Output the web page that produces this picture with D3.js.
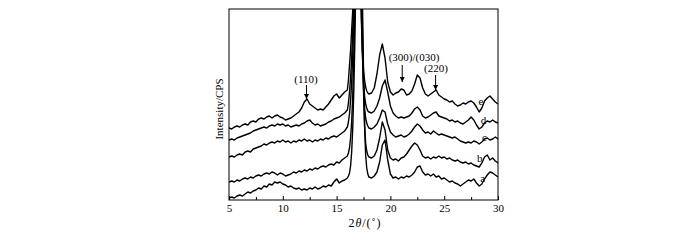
<!DOCTYPE html>
<html>
<head>
<meta charset="utf-8">
<script src="https://cdn.jsdelivr.net/npm/d3@7/dist/d3.min.js"></script>
<style>
    body { margin: 0; background: #fff; }
    text { font-family: "Liberation Serif", "Times New Roman", serif; fill: #000; }
</style>
</head>
<body>
<div id="center"></div>
<script>
// 2theta sampling: 0.25 deg steps, 0.1 deg around the main reflection (16-18 deg)
const thetaGrid = [].concat(
    d3.range(44).map(function (i) { return 5 + i * 0.25; }),
    d3.range(21).map(function (i) { return 16 + i * 0.1; }),
    d3.range(48).map(function (i) { return 18.25 + i * 0.25; })
);

// intensity (a.u., stacked offset as plotted)
const curveA = [2, 3, 2, 4, 5, 4, 6, 8, 7, 9,
    10, 12, 11, 14, 13, 16, 15, 18, 17, 18,
    16, 15, 13, 14, 12, 11, 12, 10, 11, 10,
    12, 11, 13, 11, 12, 14, 13, 15, 14, 18,
    21, 17, 19, 20,
    22, 24, 27, 34, 48, 72, 110, 160, 230, 500,
    500, 500, 400, 280, 200, 130, 75, 45, 32, 26, 23,
    22, 24, 28, 38, 55, 60, 40,
    26, 22, 23, 21, 23, 22, 24, 23, 25, 28,
    33, 34, 28, 25, 26, 24, 26, 23, 24, 21,
    22, 20, 18, 19, 17, 16, 14, 16, 18, 20,
    19, 21, 17, 14, 16, 21, 25, 28, 27, 25, 23];
const curveB = [18, 19, 18, 20, 19, 21, 22, 21, 23, 22,
    24, 25, 24, 26, 27, 26, 28, 27, 25, 27,
    26, 24, 25, 26, 28, 27, 29, 28, 30, 29,
    31, 30, 32, 31, 33, 34, 33, 35, 36, 35,
    38, 37, 40, 42,
    44, 47, 52, 62, 78, 105, 145, 190, 280, 500,
    500, 500, 350, 240, 170, 110, 75, 57, 49, 45, 43,
    42, 44, 50, 62, 78, 70, 50,
    42, 40, 41, 39, 42, 43, 46, 50, 54, 57,
    55, 50, 44, 42, 43, 41, 43, 42, 44, 42,
    43, 41, 42, 40, 39, 40, 38, 37, 38, 36,
    37, 35, 34, 33, 37, 43, 45, 40, 42, 39, 37];
const curveC = [43, 44, 43, 45, 46, 45, 48, 49, 48, 51,
    52, 53, 54, 56, 55, 57, 58, 57, 59, 58,
    60, 58, 59, 57, 59, 58, 60, 59, 61, 59,
    60, 58, 60, 59, 61, 60, 62, 61, 63, 64,
    63, 65, 67, 69,
    73, 78, 86, 100, 118, 145, 180, 260, 500, 500,
    500, 450, 300, 210, 150, 112, 92, 82, 77, 74, 72,
    71, 73, 76, 82, 90, 88, 76,
    68, 65, 63, 64, 65, 63, 64, 66, 69, 73,
    76, 74, 70, 67, 68, 66, 69, 67, 65, 66,
    65, 64, 63, 62, 63, 61, 59, 58, 57, 58,
    57, 59, 58, 56, 58, 61, 62, 60, 61, 63, 61];
const curveD = [60, 61, 60, 62, 63, 64, 65, 66, 67, 69,
    70, 71, 72, 73, 72, 74, 75, 74, 76, 75,
    76, 74, 75, 73, 74, 75, 74, 76, 77, 79,
    80, 77, 75, 76, 74, 75, 76, 78, 79, 81,
    82, 83, 85, 87,
    90, 97, 108, 122, 142, 170, 200, 300, 500, 500,
    500, 400, 260, 190, 145, 118, 104, 96, 92, 89, 88,
    87, 89, 94, 102, 114, 120, 108,
    94, 87, 84, 82, 83, 82, 83, 84, 87, 91,
    93, 90, 84, 82, 83, 85, 87, 88, 84, 83,
    82, 81, 79, 80, 78, 79, 77, 76, 78, 80,
    83, 80, 75, 71, 73, 77, 79, 78, 80, 78, 77];
const curveE = [72, 71, 73, 74, 73, 75, 76, 75, 78, 79,
    78, 81, 82, 81, 83, 84, 82, 84, 85, 83,
    82, 80, 81, 82, 84, 86, 88, 92, 98, 101,
    96, 94, 92, 90, 91, 90, 93, 96, 100, 104,
    106, 102, 105, 108,
    110, 120, 135, 150, 170, 190, 240, 350, 500, 500,
    500, 350, 230, 180, 150, 130, 120, 113, 109, 107, 106,
    107, 112, 126, 145, 156, 142, 118,
    108, 105, 107, 108, 111, 110, 105, 106, 109, 116,
    125, 122, 112, 106, 104, 106, 108, 110, 105, 103,
    101, 100, 98, 99, 96, 94, 95, 97, 96, 98,
    99, 97, 93, 88, 92, 99, 102, 104, 101, 98, 96];

const curves = [curveA, curveB, curveC, curveD, curveE];
const curveNames = ["a", "b", "c", "d", "e"];
const nameTheta = [28.57, 28.3, 28.75, 28.66, 28.42];
const nameLevel = [18, 38, 59, 76, 95];

const majorTicks = [5, 10, 15, 20, 25, 30];
const minorTicks = [7.5, 12.5, 17.5, 22.5, 27.5];

const peakNames = ["(110)", "(300)/(030)", "(220)"];
const peakTheta = [12.2, 21.1, 24.2];
const peakTextTheta = [12.16, 22.2, 24.24];
const peakTip = [101, 118, 110];
const peakTail = [115, 135, 125];
const peakTextLevel = [117, 139, 128];

let width = 700, height = 240;
const svg = d3.select("#center").append("svg")
    .attr("width", width)
    .attr("height", height);

let plotLeft = 229, plotRight = 498, plotTop = 9, plotBottom = 200;
let xlinear = d3.scaleLinear().domain([5, 30]).range([plotLeft, plotRight]);
let ylinear = d3.scaleLinear().domain([0, 191]).range([plotBottom, plotTop]);

svg.append("clipPath").attr("id", "plot")
    .append("rect")
    .attr("x", plotLeft).attr("y", plotTop)
    .attr("width", plotRight - plotLeft).attr("height", plotBottom - plotTop);

let line = d3.line()
    .x(function (d, i) { return xlinear(thetaGrid[i]); })
    .y(function (d) { return ylinear(d); });

svg.append("g")
    .attr("clip-path", "url(#plot)")
    .selectAll("path")
    .data(curves)
    .enter()
    .append("path")
    .attr("d", line)
    .attr("fill", "none")
    .attr("stroke", "#000")
    .attr("stroke-width", 1.4)
    .attr("stroke-linejoin", "round");

// curve names
svg.selectAll(".cname")
    .data(curveNames)
    .enter()
    .append("text")
    .attr("class", "cname")
    .attr("x", function (d, i) { return xlinear(nameTheta[i]); })
    .attr("y", function (d, i) { return ylinear(nameLevel[i]); })
    .attr("text-anchor", "middle")
    .style("font-size", "11px")
    .text(function (d) { return d; });

// peak arrows
svg.append("defs").append("marker")
    .attr("id", "head")
    .attr("viewBox", "0 0 10 10")
    .attr("refX", 10).attr("refY", 5)
    .attr("markerWidth", 5).attr("markerHeight", 5)
    .attr("markerUnits", "userSpaceOnUse")
    .attr("orient", "auto")
    .append("path")
    .attr("d", "M0,0L10,5L0,10Z")
    .attr("fill", "#000");

let peaks = svg.append("g");
peaks.selectAll("line")
    .data(peakNames)
    .enter()
    .append("line")
    .attr("x1", function (d, i) { return xlinear(peakTheta[i]); })
    .attr("x2", function (d, i) { return xlinear(peakTheta[i]); })
    .attr("y1", function (d, i) { return ylinear(peakTail[i]); })
    .attr("y2", function (d, i) { return ylinear(peakTip[i]); })
    .attr("stroke", "#000")
    .attr("stroke-width", 1)
    .attr("marker-end", "url(#head)");
peaks.selectAll("text")
    .data(peakNames)
    .enter()
    .append("text")
    .attr("x", function (d, i) { return xlinear(peakTextTheta[i]); })
    .attr("y", function (d, i) { return ylinear(peakTextLevel[i]); })
    .attr("text-anchor", "middle")
    .style("font-size", "11px")
    .text(function (d) { return d; });

// axes
let axisX = d3.axisBottom(xlinear).tickValues(majorTicks)
    .tickSize(-4).tickSizeOuter(0).tickPadding(4);
let gx = svg.append("g")
    .attr("transform", "translate(0," + plotBottom + ")")
    .call(axisX);
gx.select(".domain").remove();
gx.selectAll("text").style("font-size", "11px")
    .style("font-family", "'Liberation Serif', serif");

let minorX = d3.axisBottom(xlinear).tickValues(minorTicks)
    .tickSize(-3).tickSizeOuter(0).tickFormat("");
let gm = svg.append("g")
    .attr("transform", "translate(0," + plotBottom + ")")
    .call(minorX);
gm.select(".domain").remove();

svg.append("rect")
    .attr("x", plotLeft).attr("y", plotTop)
    .attr("width", plotRight - plotLeft).attr("height", plotBottom - plotTop)
    .attr("fill", "none")
    .attr("stroke", "#000")
    .attr("stroke-width", 1);

// axis titles
let xt = svg.append("text")
    .attr("x", 365).attr("y", 227)
    .attr("text-anchor", "middle")
    .style("font-size", "12px")
    .style("letter-spacing", "1px");
xt.append("tspan").text("2");
xt.append("tspan").style("font-style", "italic").text("θ");
xt.append("tspan").text("/(˚)");

svg.append("text")
    .attr("transform", "translate(223,109) rotate(-90)")
    .attr("text-anchor", "middle")
    .style("font-size", "11px")
    .text("Intensity/CPS");
</script>
</body>
</html>
